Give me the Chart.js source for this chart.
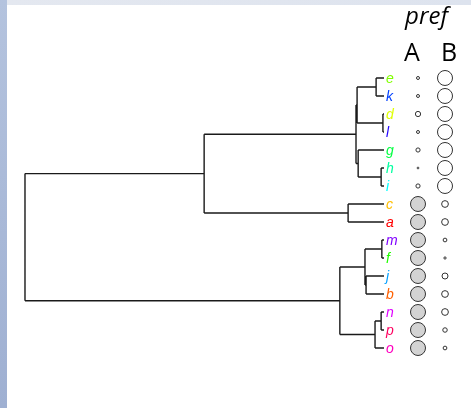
<!DOCTYPE html>
<html>
<head>
<meta charset="utf-8">
<style>
    body { margin: 0; }
    #wrap { position: relative; width: 471px; height: 408px; background: #fff; overflow: hidden; }
    #left { position: absolute; left: 0; top: 0; width: 7px; height: 408px;
            background: linear-gradient(#b4c3de, #9fb0d2); }
    #top { position: absolute; left: 7px; top: 0; width: 464px; height: 5px;
           background: linear-gradient(90deg, #e4e8f0, #dde3ee); }
    #chart { position: absolute; left: 0; top: 0; }
</style>
</head>
<body>
<div id="wrap">
    <div id="left"></div>
    <div id="top"></div>
    <canvas id="chart" width="471" height="408"></canvas>
</div>

<script src="https://cdn.jsdelivr.net/npm/chart.js"></script>
<script type="text/javascript">
    // tips, top to bottom
    const tipLabels = ['e', 'k', 'd', 'l', 'g', 'h', 'i', 'c', 'a', 'm', 'f', 'j', 'b', 'n', 'p', 'o'];
    const tipColors = ['#80FF00', '#0040FF', '#DFFF00', '#2000FF', '#00FF40', '#00FF9F', '#00FFFF', '#FFBF00',
                       '#FF0000', '#8000FF', '#20FF00', '#009FFF', '#FF6000', '#DF00FF', '#FF0060', '#FF00BF'];

    // merges: [left child, right child, node height]  (root = 0, tips = 1)
    const merges = [
        ['e', 'k', 0.978],
        ['d', 'l', 0.997],
        [0, 1, 0.925],
        ['h', 'i', 0.992],
        ['g', 3, 0.928],
        [2, 4, 0.922],
        ['c', 'a', 0.900],
        [5, 6, 0.499],
        ['m', 'f', 0.994],
        ['j', 'b', 0.950],
        [8, 9, 0.947],
        ['n', 'p', 0.992],
        [11, 'o', 0.975],
        [10, 12, 0.877],
        [7, 13, 0.0]
    ];

    // pref columns (1 = largest circle)
    const columns = ['A', 'B'];
    const prefA = [0.2, 0.2, 0.35, 0.2, 0.28, 0.12, 0.28, 1, 1, 1, 1, 1, 1, 1, 1, 1];
    const prefB = [1, 1, 1, 1, 1, 1, 1, 0.45, 0.45, 0.25, 0.15, 0.4, 0.45, 0.45, 0.3, 0.25];

    const COL_X = [1.0947, 1.1699];
    const RMAX = 7.5;

    // build tree segments
    const nodeY = [], nodeH = [];
    function childPos(c) {
        if (typeof c === 'string') return { y: tipLabels.indexOf(c), h: 1 };
        return { y: nodeY[c], h: nodeH[c] };
    }
    let segments = [];
    merges.forEach((m, k) => {
        const a = childPos(m[0]);
        const b = childPos(m[1]);
        const h = m[2];
        nodeY[k] = (a.y + b.y) / 2;
        nodeH[k] = h;
        segments.push({ x: h, y: a.y }, { x: h, y: b.y }, { x: null, y: null });
        segments.push({ x: h, y: a.y }, { x: a.h, y: a.y }, { x: null, y: null });
        segments.push({ x: h, y: b.y }, { x: b.h, y: b.y }, { x: null, y: null });
    });

    const labelPlugin = {
        id: 'labels',
        afterDraw(chart) {
            const ctx = chart.ctx;
            const xs = chart.scales.x, ys = chart.scales.y;
            ctx.save();
            ctx.textBaseline = 'middle';
            ctx.font = 'italic 14px "Liberation Sans", Arial, sans-serif';
            tipLabels.forEach((t, i) => {
                ctx.fillStyle = tipColors[i];
                ctx.fillText(t, xs.getPixelForValue(1) + 2, ys.getPixelForValue(i) + 1);
            });
            ctx.fillStyle = '#000';
            ctx.textAlign = 'center';
            ctx.textBaseline = 'alphabetic';
            ctx.font = 'italic 24px "Open Sans", "Noto Sans", sans-serif';
            ctx.fillText('pref', (xs.getPixelForValue(COL_X[0]) + xs.getPixelForValue(COL_X[1])) / 2 - 5, 24);
            ctx.font = '25px "Open Sans", "Noto Sans", sans-serif';
            ctx.fillText(columns[0], xs.getPixelForValue(COL_X[0]) - 6, 61);
            ctx.fillText(columns[1], xs.getPixelForValue(COL_X[1]) + 4, 61);
            ctx.restore();
        }
    };

    function circleSet(values, col, bigFill) {
        return {
            type: 'scatter',
            data: tipLabels.map((t, i) => ({ x: COL_X[col], y: i })),
            pointRadius: (c) => values[c.dataIndex] * RMAX,
            pointBackgroundColor: (c) => values[c.dataIndex] >= 1 ? bigFill : '#ffffff',
            pointBorderColor: '#333',
            pointBorderWidth: 1,
            showLine: false,
            clip: false
        };
    }

    const chart = new Chart(document.getElementById('chart'), {
        type: 'scatter',
        data: {
            datasets: [
                {
                    data: segments,
                    showLine: true,
                    spanGaps: false,
                    borderColor: '#1a1a1a',
                    borderWidth: 1.4,
                    pointRadius: 0,
                    clip: false
                },
                circleSet(prefA, 0, '#d3d3d3'),
                circleSet(prefB, 1, '#ffffff')
            ]
        },
        options: {
            responsive: false,
            animation: false,
            events: [],
            layout: { padding: 0, autoPadding: false },
            scales: {
                x: { type: 'linear', display: false, min: -0.0696, max: 1.2423 },
                y: { type: 'linear', display: false, reverse: true, min: -4.333, max: 18.333 }
            },
            plugins: {
                legend: { display: false },
                tooltip: { enabled: false }
            }
        },
        plugins: [labelPlugin]
    });
</script>
</body>
</html>
